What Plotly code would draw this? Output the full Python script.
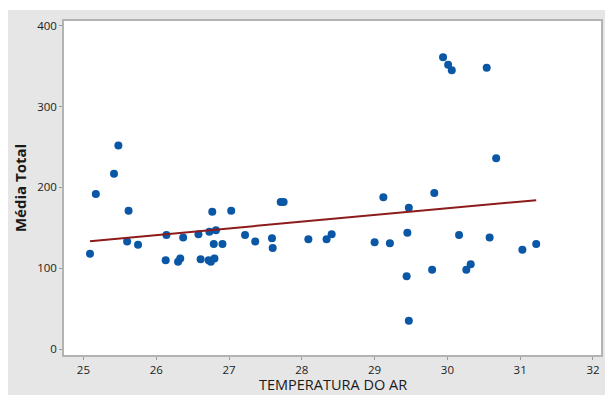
import numpy as np
import plotly.graph_objects as go

# Air temperature (°C) vs. total mean
temperatura = [
    25.09, 25.17, 25.42, 25.48, 25.62, 25.60, 25.75, 26.14, 26.13, 26.30,
    26.33, 26.37, 26.58, 26.61, 26.73, 26.77, 26.72, 26.75, 26.80, 26.79,
    26.82, 26.91, 27.03, 27.22, 27.36, 27.59, 27.60, 27.71, 27.75, 28.09,
    28.34, 28.41, 29.00, 29.12, 29.21, 29.47, 29.45, 29.44, 29.47, 29.82,
    29.79, 30.16, 30.26, 30.32, 30.58, 30.67, 31.03, 31.22, 29.94, 30.01,
    30.06, 30.54,
]
media_total = [
    118, 192, 217, 252, 171, 133, 129, 141, 110, 108,
    112, 138, 142, 111, 145, 170, 110, 108, 112, 130,
    147, 130, 171, 141, 133, 137, 125, 182, 182, 136,
    136, 142, 132, 188, 131, 175, 144, 90, 35, 193,
    98, 141, 98, 105, 138, 236, 123, 130, 361, 352,
    345, 348,
]

x_ticks = [25, 26, 27, 28, 29, 30, 31, 32]
y_ticks = [0, 100, 200, 300, 400]

# Least-squares fitted line over the observed temperature span
slope, intercept = np.polyfit(temperatura, media_total, 1)
fit_x = np.array([min(temperatura), max(temperatura)])
fit_y = intercept + slope * fit_x

fig = go.Figure()
fig.add_trace(go.Scatter(
    x=temperatura, y=media_total, mode="markers",
    marker=dict(color="#0a57a6", size=8, symbol="circle"),
    showlegend=False,
))
fig.add_trace(go.Scatter(
    x=fit_x, y=fit_y, mode="lines",
    line=dict(color="#8e1b1b", width=2),
    showlegend=False,
))

axis_common = dict(
    showline=True, mirror=True, linecolor="#b3b3b3", linewidth=1.5,
    showgrid=False, zeroline=False,
    ticks="outside", ticklen=3, tickcolor="#9a9a9a", tickwidth=1,
    tickfont=dict(family="Open Sans", size=11.5, color="#222222"),
)

fig.update_xaxes(
    range=[24.733, 32.11], tickvals=x_ticks,
    **axis_common,
)
fig.update_yaxes(
    range=[-7.4, 406], tickvals=y_ticks,
    title=dict(text="<b>Média Total</b>", standoff=7,
               font=dict(family="Open Sans", size=15, color="#1a1a1a")),
    **axis_common,
)

# x-axis title placed just under the tick labels
fig.add_annotation(
    text="TEMPERATURA DO AR", xref="paper", yref="paper",
    x=0.5, y=-0.1183, xanchor="center", yanchor="bottom",
    showarrow=False, borderpad=0,
    font=dict(family="Open Sans", size=14.5, color="#1a1a1a"),
)

# White strips along the top and left edge of the grey frame
fig.add_shape(type="rect", xref="paper", yref="paper",
              x0=-0.2, x1=1.1, y0=1.033, y1=1.2,
              fillcolor="white", line=dict(width=0), layer="below")
fig.add_shape(type="rect", xref="paper", yref="paper",
              x0=-0.2, x1=-0.1043, y0=-0.2, y1=1.2,
              fillcolor="white", line=dict(width=0), layer="below")

fig.update_layout(
    width=605, height=395,
    margin=dict(l=64, r=4, t=21, b=40, autoexpand=False),
    paper_bgcolor="#e6e6e6", plot_bgcolor="white",
    font=dict(family="Open Sans"),
)

fig.write_html("out.html")
